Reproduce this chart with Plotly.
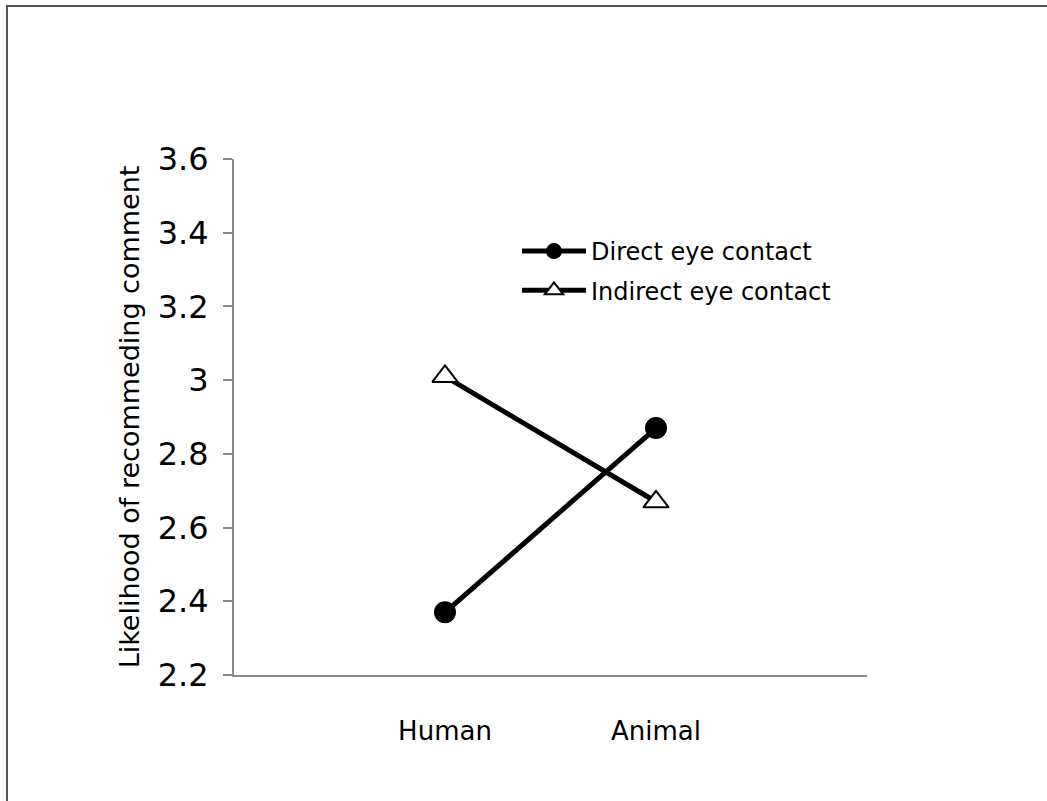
import plotly.graph_objects as go

categories = ["Human", "Animal"]
direct_eye = [2.37, 2.87]
indirect_eye = [3.01, 2.67]
series_names = ["Direct eye contact", "Indirect eye contact"]
y_ticks = [2.2, 2.4, 2.6, 2.8, 3.0, 3.2, 3.4, 3.6]

W, H = 1047, 801
L, R, T, B = 234, 180, 159, 126
pw, ph = W - L - R, H - T - B

fig = go.Figure()
fig.add_trace(go.Scatter(
    x=categories, y=direct_eye, name=series_names[0], mode="lines+markers",
    legendgroup="a",
    line=dict(color="black", width=5),
    marker=dict(symbol="circle", size=22, color="black"),
))
fig.add_trace(go.Scatter(
    x=categories, y=indirect_eye, name=series_names[1], mode="lines+markers",
    legendgroup="b",
    line=dict(color="black", width=5),
    marker=dict(symbol="triangle-up", size=22, color="white",
                line=dict(color="black", width=2)),
))

# outer frame (only left and top edges visible)
fig.add_shape(type="rect", xref="paper", yref="paper",
              x0=(7 - L) / pw, x1=(W + 20 - L) / pw,
              y0=(H - B - (H + 20)) / ph, y1=(H - B - 6) / ph,
              line=dict(color="#555555", width=2), fillcolor="rgba(0,0,0,0)")

fig.update_layout(
    width=W, height=H,
    margin=dict(l=L, r=R, t=T, b=B, autoexpand=False),
    paper_bgcolor="white", plot_bgcolor="white",
    font=dict(family="DejaVu Sans", color="black"),
    showlegend=True,
    legend=dict(x=(517 - L) / pw, y=(H - B - 229) / ph, xanchor="left", yanchor="top",
                font=dict(size=24, family="DejaVu Sans"), bgcolor="rgba(0,0,0,0)",
                itemwidth=64, tracegroupgap=5),
    xaxis=dict(type="category", categoryorder="array", categoryarray=categories,
               range=[-1, 2], showline=True, linecolor="#8a8a8a", linewidth=2,
               ticks="", showgrid=False, zeroline=False,
               tickfont=dict(size=26, family="DejaVu Sans"), ticklabelstandoff=32),
    yaxis=dict(range=[2.2, 3.6], tickvals=y_ticks, showline=True, linecolor="#8a8a8a",
               linewidth=2, ticks="outside", ticklen=9, tickcolor="#8a8a8a", tickwidth=1.5,
               showgrid=False, zeroline=False,
               tickfont=dict(size=32, family="DejaVu Sans"), ticklabelstandoff=8,
               title=dict(text="Likelihood of recommeding comment",
                          font=dict(size=27, family="DejaVu Sans"), standoff=10)),
)

fig.write_html("out.html", config={"displayModeBar": False},
               post_script="document.body.style.margin='0';")
